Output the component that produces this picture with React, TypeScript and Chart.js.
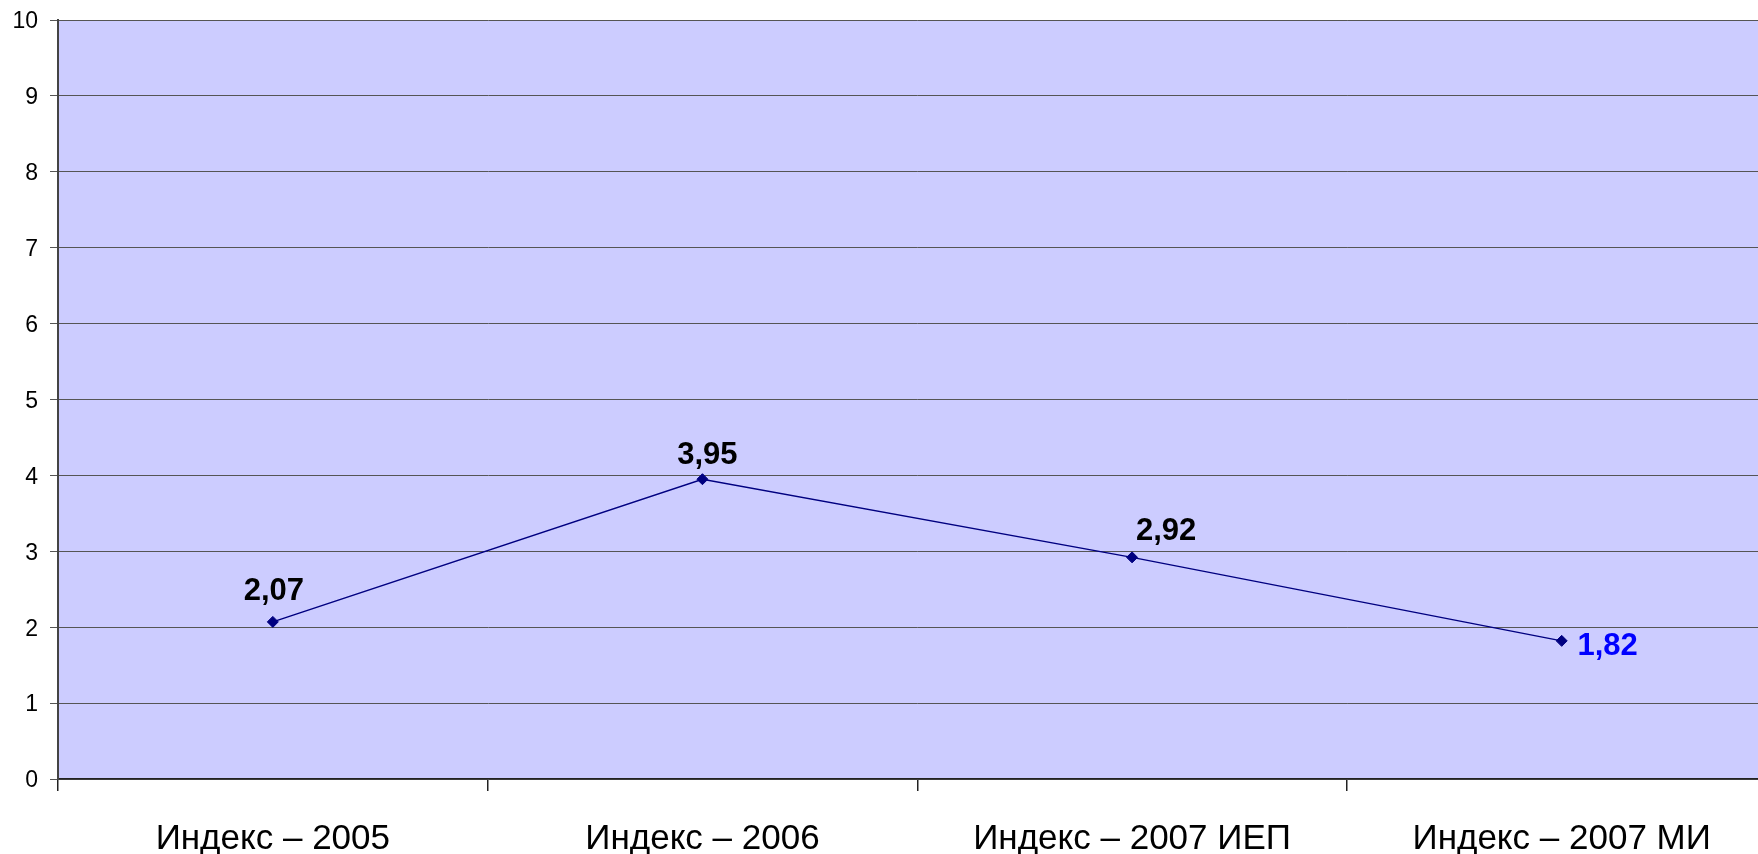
import React, { useEffect, useRef } from "react";
import { Chart, registerables } from "chart.js";

Chart.register(...registerables);

const categories = ["Индекс – 2005", "Индекс – 2006", "Индекс – 2007 ИЕП", "Индекс – 2007 МИ"];
const values = [2.07, 3.95, 2.92, 1.82];
const valueLabels = ["2,07", "3,95", "2,92", "1,82"];
const labelColors = ["#000000", "#000000", "#000000", "#0000FF"];
// label placement relative to the point (px)
const labelOffsetX = [1, 5, 34, 46];
const labelOffsetY = [-30, -24, -26, 6];
const yMin = 0;
const yMax = 10;
const yStep = 1;

const FONT = "'Liberation Sans', Arial, sans-serif";

const bgPlugin = {
  id: "plotBg",
  beforeDraw(chart: any) {
    const { ctx, chartArea } = chart;
    if (!chartArea) return;
    ctx.save();
    ctx.fillStyle = "#CCCCFF";
    ctx.fillRect(chartArea.left, chartArea.top, chartArea.right - chartArea.left, chartArea.bottom - chartArea.top);
    ctx.restore();
  },
};

const labelPlugin = {
  id: "valueLabels",
  afterDatasetsDraw(chart: any) {
    const { ctx } = chart;
    const meta = chart.getDatasetMeta(0);
    ctx.save();
    ctx.font = `bold 31px ${FONT}`;
    ctx.textAlign = "center";
    ctx.textBaseline = "middle";
    meta.data.forEach((pt: any, i: number) => {
      ctx.fillStyle = labelColors[i];
      ctx.fillText(valueLabels[i], pt.x + labelOffsetX[i], pt.y + labelOffsetY[i]);
    });
    ctx.restore();
  },
};

export default function App() {
  const ref = useRef<HTMLCanvasElement>(null);
  useEffect(() => {
    if (!ref.current) return;
    const chart = new Chart(ref.current, {
      type: "line",
      data: {
        labels: categories,
        datasets: [
          {
            data: values,
            borderColor: "#000080",
            borderWidth: 1.5,
            backgroundColor: "#000080",
            pointStyle: "rectRot",
            pointRadius: 5.5,
            pointBackgroundColor: "#000080",
            pointBorderColor: "#000080",
            pointBorderWidth: 1,
            tension: 0,
            fill: false,
          },
        ],
      },
      options: {
        animation: false,
        responsive: false,
        maintainAspectRatio: false,
        layout: { padding: { top: 20, right: 0, left: 0, bottom: 0 } },
        plugins: { legend: { display: false }, tooltip: { enabled: false } },
        scales: {
          x: {
            type: "category",
            offset: true,
            grid: {
              offset: true,
              drawOnChartArea: false,
              drawTicks: true,
              tickLength: 12,
              color: "#222222",
              lineWidth: 1.5,
            },
            border: { display: true, color: "#222222", width: 1.5 },
            ticks: {
              color: "#000000",
              font: { family: FONT, size: 35 },
              padding: 27,
              maxRotation: 0,
              autoSkip: false,
            },
            afterFit(scale: any) {
              scale.height = 75;
            },
          },
          y: {
            min: yMin,
            max: yMax,
            grid: {
              color: "#555555",
              lineWidth: 1,
              tickLength: 8,
            },
            border: { display: true, color: "#444444", width: 2 },
            ticks: {
              stepSize: yStep,
              color: "#000000",
              font: { family: FONT, size: 23, lineHeight: 0.6 },
              padding: 12,
              labelOffset: 2,
            },
            afterFit(scale: any) {
              scale.width = 58;
            },
          },
        },
      },
      plugins: [bgPlugin, labelPlugin],
    });
    return () => chart.destroy();
  }, []);
  return (
    <div style={{ position: "fixed", left: 0, top: 0, width: 1758, height: 854, overflow: "hidden", background: "#fff" }}>
      <canvas ref={ref} width={1783} height={854} style={{ display: "block", width: 1783, height: 854 }} />
    </div>
  );
}
